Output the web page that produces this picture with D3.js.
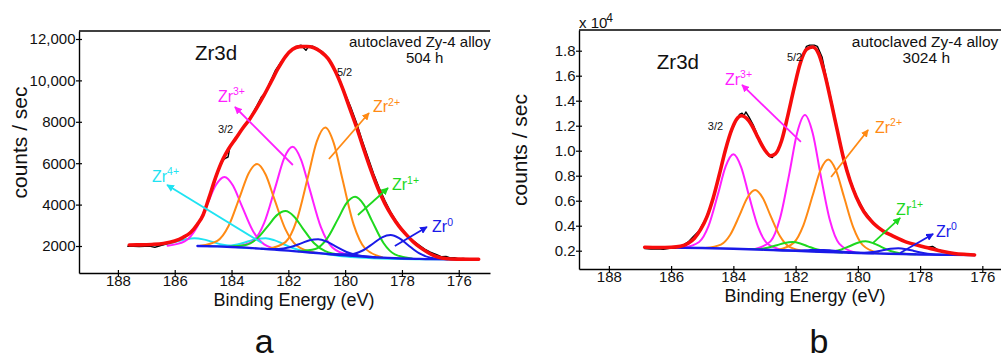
<!DOCTYPE html>
<html>
<head>
<meta charset="utf-8">
<script src="https://cdn.jsdelivr.net/npm/d3@7"></script>
<style>
  body { margin: 0; background: #fff; }
  svg { display: block; font-family: "Liberation Sans", Arial, Helvetica, sans-serif; }
</style>
</head>
<body>
<svg id="chart" width="1001" height="361"></svg>
<script>
// ---------- shared axis values ----------
const energyTicks = [188, 186, 184, 182, 180, 178, 176];
const countTicksA = [2000, 4000, 6000, 8000, 10000, 12000];
const countTickLabelsA = ["2000", "4000", "6000", "8000", "10,000", "12,000"];
const countTicksB = [0.2, 0.4, 0.6, 0.8, 1.0, 1.2, 1.4, 1.6, 1.8];
const countTickLabelsB = ["0.2", "0.4", "0.6", "0.8", "1.0", "1.2", "1.4", "1.6", "1.8"];

// ---------- (a) 504 h : [binding energy eV, counts/sec] ----------
const rawA = [[187.65,1985],[187.45,1990],[187.25,1975],[187.05,1990],[186.85,1985],[186.7,1935],[186.55,2000],[186.35,2080],[186.15,2160],[185.95,2270],[185.75,2380],[185.55,2560],[185.35,2800],[185.15,3150],[184.95,3650],[184.75,4420],[184.55,5300],[184.4,5850],[184.3,6150],[184.2,6250],[184.12,6300],[184.05,6850],[183.9,7120],[183.7,7500],[183.5,7900],[183.3,8300],[183.1,8800],[182.95,9200],[182.8,9400],[182.65,9900],[182.45,10500],[182.25,10900],[182.05,11250],[181.85,11520],[181.7,11640],[181.55,11700],[181.45,11550],[181.38,11450],[181.3,11620],[181.15,11650],[181.0,11550],[180.8,11380],[180.6,11080],[180.4,10620],[180.2,10050],[180.0,9350],[179.8,8700],[179.6,7950],[179.4,7100],[179.2,6300],[179.0,5500],[178.8,4800],[178.6,4200],[178.4,3650],[178.2,3200],[178.0,2820],[177.8,2500],[177.6,2250],[177.4,2050],[177.2,1850],[177.0,1700],[176.8,1600],[176.6,1480],[176.45,1500],[176.3,1420],[176.15,1440],[176.0,1380],[175.85,1400],[175.7,1370]];
const envelopeA = [[187.6,2050],[187.2,2055],[186.8,2075],[186.4,2120],[186.0,2240],[185.7,2420],[185.45,2640],[185.2,3050],[185.0,3500],[184.8,4300],[184.55,5350],[184.3,6200],[184.1,6700],[183.85,7200],[183.6,7700],[183.35,8150],[183.1,8700],[182.85,9300],[182.6,9950],[182.35,10600],[182.1,11150],[181.85,11500],[181.6,11630],[181.35,11640],[181.1,11580],[180.85,11380],[180.6,11050],[180.35,10450],[180.1,9650],[179.85,8700],[179.6,7750],[179.35,6700],[179.1,5700],[178.85,4800],[178.6,4050],[178.35,3450],[178.1,2950],[177.85,2550],[177.6,2200],[177.35,1920],[177.1,1700],[176.85,1520],[176.6,1420],[176.3,1375],[176.0,1365],[175.6,1360],[175.3,1360]];
const backgroundA = [[185.2,2000],[184.5,1980],[184.0,1955],[183.5,1920],[183.0,1875],[182.5,1825],[182.0,1775],[181.5,1715],[181.0,1660],[180.5,1600],[180.0,1545],[179.5,1500],[179.0,1460],[178.5,1425],[178.0,1400],[177.5,1380],[177.0,1365],[176.0,1360],[175.3,1360]];
const zr4A_32 = [[187.3,2002],[186.7,2024],[186.3,2092],[185.9,2225],[185.6,2326],[185.3,2370],[185.0,2321],[184.7,2210],[184.3,2057],[183.9,1969],[183.3,1892]];
const zr4A_52 = [[184.8,1990],[184.2,2004],[183.8,2069],[183.4,2226],[183.1,2344],[182.8,2375],[182.5,2284],[182.2,2111],[181.8,1879],[181.4,1739],[180.8,1637],[180.2,1520],[179.5,1450],[178.5,1390],[177.5,1362],[176.5,1355],[175.3,1355]];
const zr3A_32 = [[186.25,2013],[185.65,2222],[185.25,2837],[184.85,4036],[184.55,4950],[184.25,5338],[183.95,4922],[183.65,3976],[183.25,2737],[182.85,2082],[182.25,1813]];
const zr3A_52 = [[183.85,1965],[183.25,2231],[182.85,3115],[182.45,4879],[182.15,6235],[181.85,6795],[181.55,6165],[181.25,4749],[180.85,2895],[180.45,1928],[179.85,1555]];
const zr2A_32 = [[185.1,2009],[184.5,2247],[184.1,2976],[183.7,4412],[183.4,5504],[183.1,5960],[182.8,5451],[182.5,4302],[182.1,2801],[181.7,2009],[181.1,1686]];
const zr2A_52 = [[182.7,1869],[182.1,2188],[181.7,3259],[181.3,5393],[181.0,7040],[180.7,7725],[180.4,6970],[180.1,5258],[179.7,3034],[179.3,1888],[178.7,1464]];
const zr1A_32 = [[184.1,1968],[183.5,2045],[183.1,2358],[182.7,2998],[182.4,3491],[182.1,3685],[181.8,3426],[181.5,2868],[181.1,2143],[180.7,1750],[180.1,1563]];
const zr1A_52 = [[181.65,1746],[181.05,1854],[180.65,2332],[180.25,3311],[179.95,4068],[179.65,4375],[179.35,4013],[179.05,3201],[178.65,2147],[178.25,1599],[177.65,1401]];
const zr0A_32 = [[182.95,1873],[182.35,1854],[181.95,1937],[181.55,2127],[181.25,2281],[180.95,2325],[180.65,2211],[180.35,1992],[179.95,1712],[179.55,1549],[178.95,1458]];
const zr0A_52 = [[180.4,1599],[179.8,1603],[179.4,1771],[179.0,2134],[178.7,2419],[178.4,2530],[178.1,2379],[177.8,2064],[177.4,1654],[177.0,1438],[176.4,1364]];

// ---------- (b) 3024 h : [binding energy eV, counts/sec x 10^4] ----------
const rawB = [[186.85,0.218],[186.65,0.214],[186.45,0.216],[186.25,0.212],[186.05,0.22],[185.85,0.224],[185.65,0.238],[185.45,0.27],[185.3,0.31],[185.1,0.36],[184.9,0.45],[184.7,0.58],[184.5,0.76],[184.3,0.96],[184.1,1.13],[183.95,1.22],[183.8,1.29],[183.72,1.30],[183.66,1.28],[183.6,1.31],[183.5,1.27],[183.35,1.20],[183.2,1.11],[183.0,1.015],[182.85,0.955],[182.75,0.945],[182.6,0.99],[182.45,1.08],[182.25,1.28],[182.05,1.50],[181.85,1.70],[181.65,1.835],[181.55,1.845],[181.4,1.845],[181.3,1.835],[181.15,1.75],[181.0,1.57],[180.85,1.40],[180.65,1.16],[180.45,0.94],[180.25,0.77],[180.05,0.64],[179.8,0.52],[179.5,0.425],[179.2,0.36],[178.9,0.32],[178.5,0.275],[178.1,0.245],[177.8,0.226],[177.6,0.234],[177.45,0.21],[177.3,0.198]];
const envelopeB = [[186.85,0.228],[186.4,0.226],[186.0,0.228],[185.7,0.236],[185.45,0.26],[185.25,0.30],[185.05,0.37],[184.85,0.47],[184.65,0.62],[184.45,0.81],[184.25,1.01],[184.05,1.17],[183.9,1.25],[183.75,1.28],[183.6,1.265],[183.4,1.20],[183.2,1.10],[183.0,1.01],[182.8,0.96],[182.65,0.975],[182.45,1.08],[182.25,1.28],[182.05,1.50],[181.85,1.70],[181.65,1.81],[181.45,1.83],[181.25,1.77],[181.05,1.60],[180.85,1.38],[180.65,1.15],[180.45,0.93],[180.25,0.76],[180.05,0.63],[179.8,0.51],[179.5,0.42],[179.2,0.36],[178.9,0.32],[178.5,0.275],[178.1,0.245],[177.7,0.22],[177.3,0.195],[176.9,0.178],[176.5,0.17],[176.25,0.166]];
const backgroundB = [[186.2,0.225],[185.0,0.222],[184.0,0.216],[183.0,0.208],[182.0,0.199],[181.0,0.19],[180.0,0.182],[179.0,0.176],[178.0,0.17],[177.0,0.167],[176.25,0.166]];
const zr3B_32 = [[185.6,0.224],[185.1,0.270],[184.8,0.396],[184.5,0.647],[184.25,0.872],[184.0,0.971],[183.75,0.869],[183.5,0.641],[183.2,0.386],[182.9,0.256],[182.4,0.205]];
const zr3B_52 = [[183.3,0.213],[182.8,0.277],[182.5,0.459],[182.2,0.819],[181.95,1.144],[181.7,1.286],[181.45,1.140],[181.2,0.811],[180.9,0.445],[180.6,0.257],[180.1,0.186]];
const zr2B_32 = [[184.9,0.221],[184.4,0.249],[184.1,0.328],[183.8,0.484],[183.55,0.624],[183.3,0.685],[183.05,0.620],[182.8,0.476],[182.5,0.315],[182.2,0.231],[181.7,0.197]];
const zr2B_52 = [[182.55,0.208],[182.05,0.266],[181.75,0.403],[181.45,0.643],[181.2,0.845],[180.95,0.930],[180.7,0.841],[180.45,0.635],[180.15,0.389],[179.85,0.247],[179.35,0.182]];
const zr1B_32 = [[183.7,0.214],[183.2,0.214],[182.9,0.223],[182.6,0.244],[182.35,0.262],[182.1,0.269],[181.85,0.258],[181.6,0.235],[181.3,0.209],[181.0,0.195],[180.5,0.186]];
const zr1B_52 = [[181.35,0.193],[180.85,0.195],[180.55,0.208],[180.25,0.238],[180.0,0.264],[179.75,0.275],[179.5,0.260],[179.25,0.231],[178.95,0.198],[178.65,0.180],[178.15,0.171]];
const zr0B_32 = [[182.7,0.205],[182.2,0.201],[181.9,0.201],[181.6,0.204],[181.35,0.206],[181.1,0.206],[180.85,0.202],[180.6,0.196],[180.3,0.188],[180.0,0.183],[179.5,0.179]];
const zr0B_52 = [[180.3,0.184],[179.8,0.183],[179.5,0.190],[179.2,0.203],[178.95,0.215],[178.7,0.219],[178.45,0.212],[178.2,0.198],[177.9,0.181],[177.6,0.172],[177.1,0.167]];

// ---------- styling ----------
const COLORS = {
  zr4: "#1fe3f2", zr3: "#ff1fff", zr2: "#ff8a14", zr1: "#1ed81e", zr0: "#1a1ae8",
  env: "#f70c0c", raw: "#000000"
};

const svg = d3.select("#chart");
const defs = svg.append("defs");
Object.entries(COLORS).forEach(([k, c]) => {
  defs.append("marker")
    .attr("id", "head-" + k)
    .attr("viewBox", "0 0 10 10")
    .attr("refX", 9).attr("refY", 5)
    .attr("markerWidth", 4.2).attr("markerHeight", 4.2)
    .attr("markerUnits", "strokeWidth")
    .attr("orient", "auto")
    .append("path").attr("d", "M0,0 L10,5 L0,10 Z").attr("fill", c);
});

function drawPanel(p) {
  const g = svg.append("g");
  const x = d3.scaleLinear().domain(p.xDomain).range(p.xRange);
  const y = d3.scaleLinear().domain(p.yDomain).range(p.yRange);
  const smooth = d3.line().x(d => x(d[0])).y(d => y(d[1])).curve(d3.curveMonotoneX);
  const jagged = d3.line().x(d => x(d[0])).y(d => y(d[1]));

  const path = (data, gen, color, width) =>
    g.append("path").datum(data).attr("d", gen)
      .attr("fill", "none").attr("stroke", color)
      .attr("stroke-width", width).attr("stroke-linejoin", "round").attr("stroke-linecap", "round");

  // fitted components
  p.components.forEach(c => path(c.data, smooth, COLORS[c.key], c.width || 2));
  // background and metal component on top
  path(p.background, smooth, COLORS.zr0, 2.4);
  p.front.forEach(c => path(c.data, smooth, COLORS[c.key], 2));
  // measured spectrum, then the envelope
  path(p.raw, jagged, COLORS.raw, 1.4);
  path(p.envelope, smooth, COLORS.env, 3.6);

  // frame
  const [x0, x1] = p.xRange;
  const [yb, yt] = p.yRange;
  g.append("line").attr("x1", x0).attr("x2", x1).attr("y1", yt).attr("y2", yt)
    .attr("stroke", "#000").attr("stroke-width", 1.4);

  const xAxis = g.append("g").attr("transform", `translate(0,${yb})`)
    .call(d3.axisBottom(x).tickValues(energyTicks).tickFormat(d3.format("d"))
      .tickSize(2).tickSizeOuter(0).tickPadding(0));
  const yAxis = g.append("g").attr("transform", `translate(${x0},0)`)
    .call(d3.axisLeft(y).tickValues(p.yTicks).tickFormat((d, i) => p.yTickLabels[i])
      .tickSize(3).tickSizeOuter(0).tickPadding(0.5));
  [xAxis, yAxis].forEach(a => {
    a.select(".domain").attr("stroke", "#000").attr("stroke-width", 1.4);
    a.selectAll(".tick text").attr("fill", "#111").style("font-size", "15px");
    a.selectAll(".tick line").attr("stroke", "#000").attr("stroke-width", 1.2);
  });
  xAxis.selectAll(".tick line").attr("y1", -3).attr("y2", 3);
  yAxis.selectAll(".tick line").attr("x1", -3).attr("x2", 3);

  // axis titles
  g.append("text").attr("x", x(p.xTitleAt)).attr("y", yb + 33)
    .attr("text-anchor", "middle").style("font-size", "18px").attr("fill", "#111")
    .text("Binding Energy (eV)");
  g.append("text")
    .attr("transform", `translate(${x0 - 52},${p.yTitleMid}) rotate(-90)`)
    .attr("text-anchor", "middle").style("font-size", "21px").attr("fill", "#111")
    .text("counts / sec");

  // in-plot text
  g.append("text").attr("x", x(p.title[0])).attr("y", y(p.title[1]))
    .style("font-size", "20.5px").attr("fill", "#111").text("Zr3d");
  p.sample.forEach(s => g.append("text").attr("x", x(s.at[0])).attr("y", y(s.at[1]))
    .attr("text-anchor", "middle").style("font-size", p.sampleSize).attr("fill", "#111").text(s.text));
  p.orbitals.forEach(o => g.append("text").attr("x", x(o.at[0])).attr("y", y(o.at[1]))
    .style("font-size", "11px").attr("fill", "#111").text(o.text));

  // species labels with arrows
  p.labels.forEach(l => {
    g.append("line")
      .attr("x1", x(l.from[0])).attr("y1", y(l.from[1]))
      .attr("x2", x(l.to[0])).attr("y2", y(l.to[1]))
      .attr("stroke", COLORS[l.key]).attr("stroke-width", 1.8)
      .attr("marker-end", `url(#head-${l.key})`);
    const t = g.append("text").attr("x", x(l.at[0])).attr("y", y(l.at[1]))
      .attr("fill", COLORS[l.key]).style("font-size", "16px");
    t.append("tspan").text("Zr");
    t.append("tspan").attr("dy", -6.5).style("font-size", "10.5px").text(l.sup);
  });

  // panel letter
  g.append("text").attr("x", x(p.letterAt)).attr("y", 353)
    .attr("text-anchor", "middle").style("font-size", "34px").attr("fill", "#111").text(p.letter);

  if (p.multiplier) {
    const m = g.append("text").attr("x", x0).attr("y", yt - 2)
      .style("font-size", "15px").attr("fill", "#111");
    m.append("tspan").text("x 10");
    m.append("tspan").attr("dy", -6).attr("dx", -1).style("font-size", "12px").text("4");
  }
}

drawPanel({
  xDomain: [189.37, 174.9], xRange: [79, 490],
  yDomain: [696, 12386], yRange: [273, 31],
  yTicks: countTicksA, yTickLabels: countTickLabelsA,
  xTitleAt: 181.8, yTitleMid: 142.5,
  raw: rawA, envelope: envelopeA, background: backgroundA,
  components: [
    { key: "zr4", data: zr4A_32 }, { key: "zr4", data: zr4A_52 },
    { key: "zr3", data: zr3A_32 }, { key: "zr3", data: zr3A_52 },
    { key: "zr2", data: zr2A_32 }, { key: "zr2", data: zr2A_52 },
    { key: "zr1", data: zr1A_32 }, { key: "zr1", data: zr1A_52 }
  ],
  front: [{ key: "zr0", data: zr0A_32 }, { key: "zr0", data: zr0A_52 }],
  title: [185.29, 10985],
  sample: [{ text: "autoclaved Zy-4 alloy", at: [177.37, 11613] }, { text: "504 h", at: [177.2, 10840] }],
  sampleSize: "15px",
  orbitals: [{ text: "3/2", at: [184.48, 7459] }, { text: "5/2", at: [180.29, 10213] }],
  labels: [
    { key: "zr3", sup: "3+", at: [184.48, 8957], from: [181.84, 5913], to: [183.88, 8715] },
    { key: "zr2", sup: "2+", at: [179.02, 8473], from: [180.57, 6203], to: [179.16, 8425] },
    { key: "zr4", sup: "4+", at: [186.80, 5092], from: [182.93, 2145], to: [186.27, 4947] },
    { key: "zr1", sup: "1+", at: [178.35, 4705], from: [179.55, 3498], to: [178.49, 4802] },
    { key: "zr0", sup: "0", at: [176.94, 2676], from: [178.25, 2000], to: [177.12, 2918] }
  ],
  letter: "a", letterAt: 182.85
});

drawPanel({
  xDomain: [188.96, 175.40], xRange: [579, 1001],
  yDomain: [0.0536, 1.9656], yRange: [269, 30],
  yTicks: countTicksB, yTickLabels: countTickLabelsB,
  xTitleAt: 181.7, yTitleMid: 150,
  raw: rawB, envelope: envelopeB, background: backgroundB,
  components: [
    { key: "zr3", data: zr3B_32 }, { key: "zr3", data: zr3B_52 },
    { key: "zr2", data: zr2B_32 }, { key: "zr2", data: zr2B_52 },
    { key: "zr1", data: zr1B_32 }, { key: "zr1", data: zr1B_52 }
  ],
  front: [{ key: "zr0", data: zr0B_32 }, { key: "zr0", data: zr0B_52 }],
  title: [186.46, 1.654],
  sample: [{ text: "autoclaved Zy-4 alloy", at: [177.84, 1.83] }, { text: "3024 h", at: [177.8, 1.70] }],
  sampleSize: "15.5px",
  orbitals: [{ text: "3/2", at: [184.82, 1.166] }, { text: "5/2", at: [182.28, 1.718] }],
  labels: [
    { key: "zr3", sup: "3+", at: [184.27, 1.526], from: [181.83, 1.070], to: [183.72, 1.526] },
    { key: "zr2", sup: "2+", at: [179.45, 1.142], from: [180.86, 0.790], to: [179.67, 1.166] },
    { key: "zr1", sup: "1+", at: [178.77, 0.486], from: [179.51, 0.262], to: [178.64, 0.462] },
    { key: "zr0", sup: "0", at: [177.49, 0.310], from: [178.64, 0.182], to: [177.58, 0.334] }
  ],
  letter: "b", letterAt: 181.25,
  multiplier: true
});
</script>
</body>
</html>
